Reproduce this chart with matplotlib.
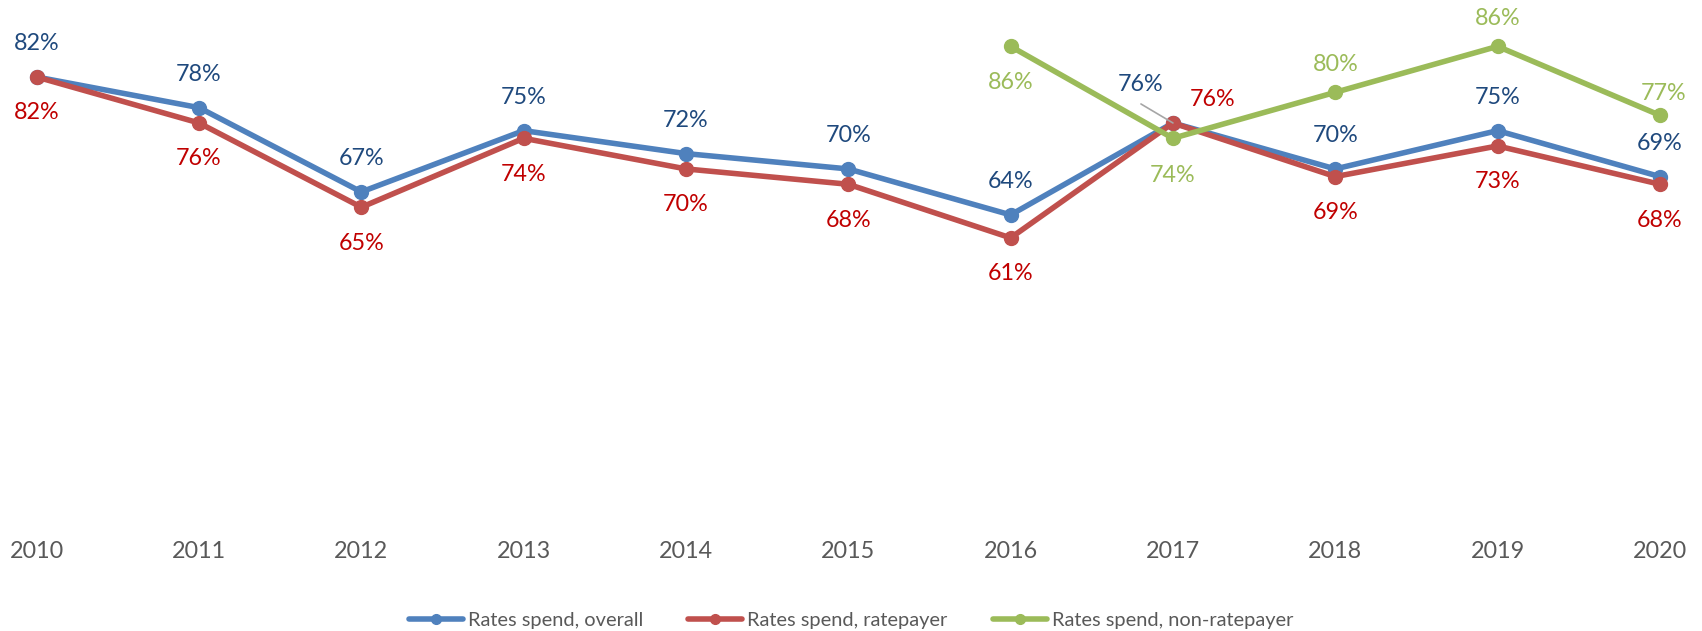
import numpy as np
import matplotlib.pyplot as plt

years = list(range(2010, 2021))
overall = [82, 78, 67, 75, 72, 70, 64, 76, 70, 75, 69]
ratepayer = [82, 76, 65, 74, 70, 68, 61, 76, 69, 73, 68]
non_ratepayer = [np.nan] * 6 + [86, 74, 80, 86, 77]

# label offsets in pixels (dx, dy), positive dy = up
off_overall = [(0, 33)] * 7 + [(-32, 38)] + [(0, 33)] * 3
off_ratepayer = [(0, -36)] * 7 + [(40, 23)] + [(0, -36)] * 3
off_non = [(0, 0)] * 6 + [(0, -36), (0, -37), (0, 28), (0, 28), (4, 22)]

plt.rcParams['font.family'] = ['Lato', 'DejaVu Sans']

fig = plt.figure(figsize=(17.02, 6.31), dpi=100)
ax = fig.add_axes([0.00249, 0.1738, 0.99185, 0.8013])

series = [
    (overall, off_overall, '#4F81BD', '#1F497D', 'Rates spend, overall', 3),
    (ratepayer, off_ratepayer, '#C0504D', '#C00000', 'Rates spend, ratepayer', 4),
    (non_ratepayer, off_non, '#9BBB59', '#9BBB59', 'Rates spend, non-ratepayer', 5),
]

px = 0.72  # pixels -> points at 100 dpi
for vals, offs, col, tcol, name, z in series:
    ax.plot(years, vals, color=col, lw=4, marker='o', ms=10,
            solid_capstyle='round', label=name, zorder=z)
    for x, v, (dx, dy) in zip(years, vals, offs):
        if np.isnan(v):
            continue
        ax.annotate(f'{v:.0f}%', (x, v), xytext=(dx * px, dy * px),
                    textcoords='offset points', ha='center', va='center',
                    fontsize=16.8, color=tcol, annotation_clip=False, zorder=10)

# leader line for the 2017 overall label
ax.annotate('', xy=(2017, overall[7]), xytext=(-32 * px, 19 * px),
            textcoords='offset points',
            arrowprops=dict(arrowstyle='-', color='#A6A6A6', lw=1.2,
                            shrinkA=0, shrinkB=0), zorder=9)

ax.set_xlim(2009.8, 2020.2)
ax.set_ylim(24, 90)
ax.set_xticks(years)
ax.set_xticklabels([str(y) for y in years])
ax.set_yticks([])
ax.tick_params(axis='x', length=0, pad=14, labelsize=16.8, labelcolor='#595959')
for s in ax.spines.values():
    s.set_visible(False)

fig.legend(loc='center', bbox_to_anchor=(0.5, 0.017), ncol=3, frameon=False,
           fontsize=14.4, handlelength=2.7, handletextpad=0.25,
           columnspacing=2.25, markerscale=0.7, labelcolor='#595959')

fig.savefig('out.png', dpi=100)
